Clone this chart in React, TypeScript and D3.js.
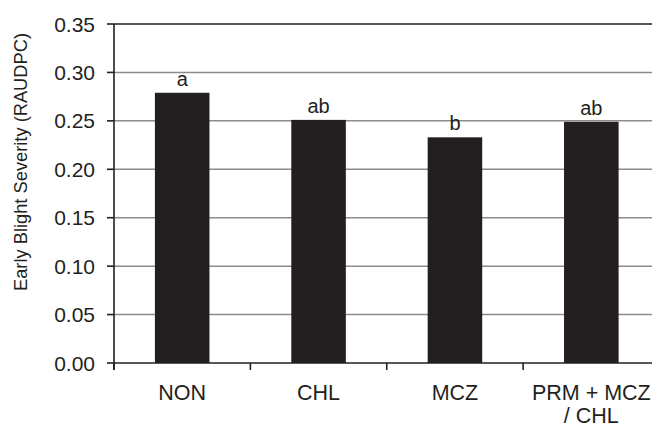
import React from "react";
import * as d3 from "d3";

const categories = ["NON", "CHL", "MCZ", "PRM + MCZ / CHL"];
const categoryLines = [["NON"], ["CHL"], ["MCZ"], ["PRM + MCZ", "/ CHL"]];
const severity = [0.279, 0.251, 0.233, 0.249];
const letters = ["a", "ab", "b", "ab"];
const yTicks = [0, 0.05, 0.1, 0.15, 0.2, 0.25, 0.3, 0.35];

const W = 652;
const H = 428;
const left = 114;
const right = 659.5;
const top = 24;
const bottom = 363;
const ink = "#231f20";
const font = "Liberation Sans, Arial, sans-serif";

export default function App() {
  const x = d3
    .scaleBand<string>()
    .domain(categories)
    .range([left, right])
    .paddingInner(0.6)
    .paddingOuter(0.3);
  const y = d3.scaleLinear().domain([0, 0.35]).range([bottom, top]);
  const step = x.step();
  const boundaries = d3.range(categories.length + 1).map((i) => left + i * step);

  return (
    <svg
      width={W}
      height={H}
      style={{ position: "absolute", left: 0, top: 0, background: "#fff" }}
      fontFamily={font}
    >
      {/* gridlines */}
      {yTicks.slice(1, -1).map((t) => (
        <line key={t} x1={left} x2={right} y1={y(t)} y2={y(t)} stroke="#8c8c8c" strokeWidth={1.5} />
      ))}
      <line x1={left} x2={right} y1={y(0.35)} y2={y(0.35)} stroke={ink} strokeWidth={1.6} />

      {/* bars */}
      {categories.map((c, i) => (
        <rect key={c} x={x(c)} y={y(severity[i])} width={x.bandwidth()} height={bottom - y(severity[i])} fill={ink} />
      ))}

      {/* significance letters */}
      {categories.map((c, i) => (
        <text
          key={c}
          x={(x(c) as number) + x.bandwidth() / 2}
          y={y(severity[i]) - 7}
          textAnchor="middle"
          fontSize={20}
          fill={ink}
        >
          {letters[i]}
        </text>
      ))}

      {/* axes */}
      <line x1={left} x2={right} y1={bottom} y2={bottom} stroke={ink} strokeWidth={1.6} />
      <line x1={left} x2={left} y1={top} y2={bottom + 7} stroke={ink} strokeWidth={1.6} />
      {yTicks.map((t) => (
        <g key={t}>
          <line x1={left - 7} x2={left} y1={y(t)} y2={y(t)} stroke={ink} strokeWidth={1.6} />
          <text x={95} y={y(t) + 7.5} textAnchor="end" fontSize={21} fill={ink}>
            {t.toFixed(2)}
          </text>
        </g>
      ))}
      {boundaries.map((b, i) => (
        <line key={i} x1={b} x2={b} y1={bottom} y2={bottom + 7} stroke={ink} strokeWidth={1.6} />
      ))}

      {/* category labels */}
      {categories.map((c, i) => (
        <text key={c} textAnchor="middle" fontSize={21.5} fill={ink}>
          {categoryLines[i].map((line, j) => (
            <tspan key={j} x={(x(c) as number) + x.bandwidth() / 2} y={400 + j * 23}>
              {line}
            </tspan>
          ))}
        </text>
      ))}

      {/* y axis title */}
      <text
        transform={`translate(${27},${162}) rotate(-90)`}
        textAnchor="middle"
        fontSize={18.3}
        fill={ink}
      >
        Early Blight Severity (RAUDPC)
      </text>
    </svg>
  );
}
